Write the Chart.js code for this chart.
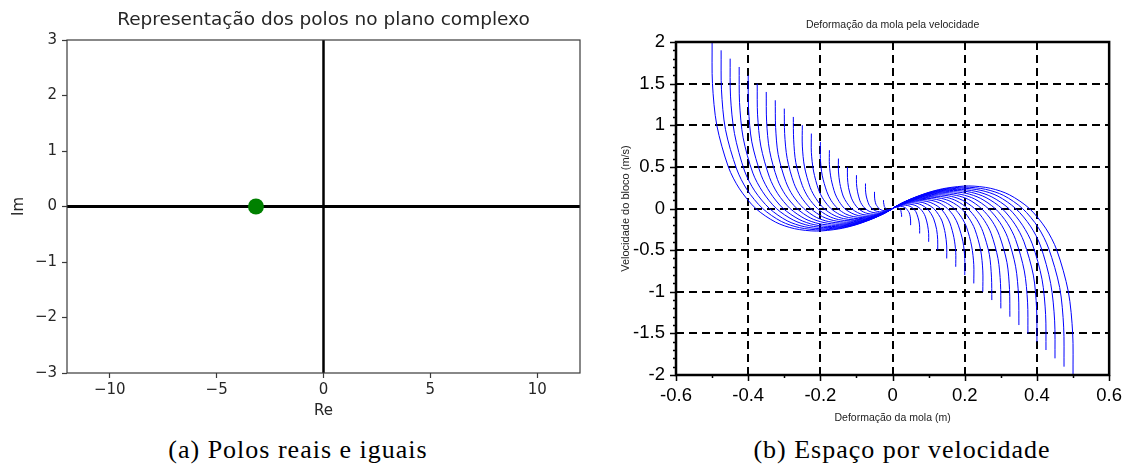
<!DOCTYPE html>
<html><head><meta charset="utf-8">
<script src="https://cdn.jsdelivr.net/npm/chart.js@4.4.0/dist/chart.umd.min.js"></script>
<style>
html,body{margin:0;padding:0;background:#fff;}
body{width:1132px;height:476px;position:relative;overflow:hidden;}
canvas{position:absolute;top:0;}
#c1{left:0;}
#c2{left:600px;}
.cap{position:absolute;top:434px;font-family:"Liberation Serif",serif;font-size:26px;letter-spacing:1px;color:#000;white-space:nowrap;transform:translateX(-50%);line-height:32px;}
</style></head><body>
<canvas id="c1" width="600" height="430"></canvas>
<canvas id="c2" width="532" height="430"></canvas>
<div class="cap" style="left:298px">(a) Polos reais e iguais</div>
<div class="cap" style="left:902px">(b) Espaço por velocidade</div>
<script>
// ---------- Left chart data ----------
const poleRe = [-3.16];
const poleIm = [0];
const reLine = [-12, 12];
const imLine = [-3, 3];
const reTicks = [-10, -5, 0, 5, 10];
const reTickLabels = ['\u221210', '\u22125', '0', '5', '10'];
const imTicks = [-3, -2, -1, 0, 1, 2, 3];
const imTickLabels = ['\u22123', '\u22122', '\u22121', '0', '1', '2', '3'];

// ---------- Right chart data (deformation x, velocity v) ----------
const L01x=[-0.025,-0.025,-0.024,-0.023,-0.021,-0.019,-0.016,-0.014,-0.011,-0.008,-0.005,-0.003,-0.002,-0.001,0,0];
const L01v=[0.1,0.075,0.05,0.025,0.012,0,-0.008,-0.012,-0.014,-0.012,-0.01,-0.007,-0.004,-0.002,-0.001,0];
const L02x=[-0.05,-0.05,-0.049,-0.046,-0.042,-0.038,-0.032,-0.027,-0.021,-0.015,-0.01,-0.006,-0.003,-0.001,0,0];
const L02v=[0.2,0.15,0.1,0.05,0.024,0,-0.016,-0.024,-0.027,-0.025,-0.02,-0.013,-0.008,-0.004,-0.001,0];
const L03x=[-0.075,-0.075,-0.073,-0.068,-0.064,-0.057,-0.049,-0.041,-0.032,-0.023,-0.016,-0.009,-0.005,-0.002,-0.001,0];
const L03v=[0.3,0.225,0.15,0.075,0.035,0,-0.025,-0.036,-0.041,-0.037,-0.03,-0.02,-0.012,-0.006,-0.002,0];
const L04x=[-0.1,-0.1,-0.097,-0.091,-0.085,-0.076,-0.065,-0.054,-0.042,-0.03,-0.021,-0.012,-0.006,-0.003,-0.001,0];
const L04v=[0.4,0.3,0.2,0.1,0.047,0,-0.033,-0.048,-0.054,-0.049,-0.04,-0.027,-0.016,-0.007,-0.002,0];
const L05x=[-0.125,-0.125,-0.122,-0.114,-0.106,-0.095,-0.081,-0.068,-0.053,-0.038,-0.026,-0.015,-0.008,-0.004,-0.001,0];
const L05v=[0.5,0.375,0.25,0.125,0.059,0,-0.041,-0.061,-0.068,-0.062,-0.05,-0.033,-0.02,-0.009,-0.003,0];
const L06x=[-0.15,-0.15,-0.146,-0.137,-0.127,-0.114,-0.097,-0.082,-0.063,-0.045,-0.031,-0.018,-0.01,-0.004,-0.001,0];
const L06v=[0.6,0.45,0.3,0.15,0.071,0,-0.049,-0.073,-0.081,-0.074,-0.06,-0.04,-0.023,-0.011,-0.003,0];
const L07x=[-0.175,-0.175,-0.17,-0.159,-0.148,-0.133,-0.113,-0.095,-0.074,-0.053,-0.036,-0.021,-0.011,-0.005,-0.001,0];
const L07v=[0.7,0.525,0.35,0.175,0.083,0,-0.057,-0.085,-0.095,-0.086,-0.07,-0.047,-0.027,-0.013,-0.004,0];
const L08x=[-0.2,-0.2,-0.195,-0.182,-0.17,-0.152,-0.13,-0.109,-0.084,-0.06,-0.042,-0.024,-0.013,-0.006,-0.002,0];
const L08v=[0.8,0.6,0.4,0.2,0.094,0,-0.066,-0.097,-0.108,-0.098,-0.08,-0.053,-0.031,-0.015,-0.004,0];
const L09x=[-0.225,-0.225,-0.219,-0.205,-0.191,-0.171,-0.146,-0.122,-0.095,-0.068,-0.047,-0.027,-0.014,-0.006,-0.002,0];
const L09v=[0.9,0.675,0.45,0.225,0.106,0,-0.074,-0.109,-0.122,-0.111,-0.09,-0.06,-0.035,-0.017,-0.005,0];
const L10x=[-0.25,-0.25,-0.244,-0.228,-0.212,-0.19,-0.162,-0.136,-0.106,-0.075,-0.052,-0.031,-0.016,-0.007,-0.002,0];
const L10v=[1,0.75,0.5,0.25,0.118,0,-0.082,-0.121,-0.136,-0.123,-0.1,-0.067,-0.039,-0.019,-0.006,0];
const L11x=[-0.275,-0.274,-0.268,-0.25,-0.233,-0.208,-0.178,-0.15,-0.116,-0.083,-0.057,-0.034,-0.018,-0.008,-0.002,0];
const L11v=[1.1,0.825,0.55,0.275,0.13,0,-0.09,-0.133,-0.149,-0.135,-0.109,-0.073,-0.043,-0.02,-0.006,0];
const L12x=[-0.3,-0.299,-0.292,-0.273,-0.254,-0.227,-0.194,-0.163,-0.127,-0.09,-0.062,-0.037,-0.019,-0.008,-0.002,0];
const L12v=[1.2,0.9,0.6,0.3,0.142,0,-0.098,-0.145,-0.163,-0.148,-0.119,-0.08,-0.047,-0.022,-0.007,0];
const L13x=[-0.325,-0.324,-0.317,-0.296,-0.276,-0.246,-0.211,-0.177,-0.137,-0.098,-0.068,-0.04,-0.021,-0.009,-0.003,0];
const L13v=[1.3,0.975,0.65,0.325,0.153,0,-0.107,-0.157,-0.176,-0.16,-0.129,-0.086,-0.051,-0.024,-0.007,0];
const L14x=[-0.35,-0.349,-0.341,-0.319,-0.297,-0.265,-0.227,-0.19,-0.148,-0.105,-0.073,-0.043,-0.022,-0.01,-0.003,0];
const L14v=[1.4,1.05,0.7,0.35,0.165,0,-0.115,-0.169,-0.19,-0.172,-0.139,-0.093,-0.055,-0.026,-0.008,0];
const L15x=[-0.375,-0.374,-0.365,-0.341,-0.318,-0.284,-0.243,-0.204,-0.158,-0.113,-0.078,-0.046,-0.024,-0.011,-0.003,0];
const L15v=[1.5,1.125,0.75,0.375,0.177,0,-0.123,-0.182,-0.203,-0.185,-0.149,-0.1,-0.059,-0.028,-0.008,0];
const L16x=[-0.4,-0.399,-0.39,-0.364,-0.339,-0.303,-0.259,-0.218,-0.169,-0.12,-0.083,-0.049,-0.026,-0.011,-0.003,0];
const L16v=[1.6,1.2,0.8,0.4,0.189,0,-0.131,-0.194,-0.217,-0.197,-0.159,-0.106,-0.062,-0.03,-0.009,0];
const L17x=[-0.425,-0.424,-0.414,-0.387,-0.36,-0.322,-0.275,-0.231,-0.179,-0.128,-0.088,-0.052,-0.027,-0.012,-0.003,0];
const L17v=[1.7,1.275,0.85,0.425,0.201,0,-0.139,-0.206,-0.23,-0.209,-0.169,-0.113,-0.066,-0.031,-0.009,0];
const L18x=[-0.45,-0.449,-0.438,-0.41,-0.382,-0.341,-0.292,-0.245,-0.19,-0.135,-0.094,-0.055,-0.029,-0.013,-0.004,0];
const L18v=[1.8,1.35,0.9,0.45,0.212,0,-0.148,-0.218,-0.244,-0.221,-0.179,-0.12,-0.07,-0.033,-0.01,0];
const L19x=[-0.475,-0.474,-0.463,-0.432,-0.403,-0.36,-0.308,-0.258,-0.2,-0.143,-0.099,-0.058,-0.03,-0.013,-0.004,0];
const L19v=[1.9,1.425,0.95,0.475,0.224,0,-0.156,-0.23,-0.257,-0.234,-0.189,-0.126,-0.074,-0.035,-0.01,0];
const L20x=[-0.5,-0.499,-0.487,-0.455,-0.424,-0.379,-0.324,-0.272,-0.211,-0.15,-0.104,-0.061,-0.032,-0.014,-0.004,0];
const L20v=[2,1.5,1,0.5,0.236,0,-0.164,-0.242,-0.271,-0.246,-0.199,-0.133,-0.078,-0.037,-0.011,0];

const R01x=[0.025,0.025,0.024,0.023,0.021,0.019,0.016,0.014,0.011,0.008,0.005,0.003,0.002,0.001,0,0];
const R01v=[-0.1,-0.075,-0.05,-0.025,-0.012,0,0.008,0.012,0.014,0.012,0.01,0.007,0.004,0.002,0.001,0];
const R02x=[0.05,0.05,0.049,0.046,0.042,0.038,0.032,0.027,0.021,0.015,0.01,0.006,0.003,0.001,0,0];
const R02v=[-0.2,-0.15,-0.1,-0.05,-0.024,0,0.016,0.024,0.027,0.025,0.02,0.013,0.008,0.004,0.001,0];
const R03x=[0.075,0.075,0.073,0.068,0.064,0.057,0.049,0.041,0.032,0.023,0.016,0.009,0.005,0.002,0.001,0];
const R03v=[-0.3,-0.225,-0.15,-0.075,-0.035,0,0.025,0.036,0.041,0.037,0.03,0.02,0.012,0.006,0.002,0];
const R04x=[0.1,0.1,0.097,0.091,0.085,0.076,0.065,0.054,0.042,0.03,0.021,0.012,0.006,0.003,0.001,0];
const R04v=[-0.4,-0.3,-0.2,-0.1,-0.047,0,0.033,0.048,0.054,0.049,0.04,0.027,0.016,0.007,0.002,0];
const R05x=[0.125,0.125,0.122,0.114,0.106,0.095,0.081,0.068,0.053,0.038,0.026,0.015,0.008,0.004,0.001,0];
const R05v=[-0.5,-0.375,-0.25,-0.125,-0.059,0,0.041,0.061,0.068,0.062,0.05,0.033,0.02,0.009,0.003,0];
const R06x=[0.15,0.15,0.146,0.137,0.127,0.114,0.097,0.082,0.063,0.045,0.031,0.018,0.01,0.004,0.001,0];
const R06v=[-0.6,-0.45,-0.3,-0.15,-0.071,0,0.049,0.073,0.081,0.074,0.06,0.04,0.023,0.011,0.003,0];
const R07x=[0.175,0.175,0.17,0.159,0.148,0.133,0.113,0.095,0.074,0.053,0.036,0.021,0.011,0.005,0.001,0];
const R07v=[-0.7,-0.525,-0.35,-0.175,-0.083,0,0.057,0.085,0.095,0.086,0.07,0.047,0.027,0.013,0.004,0];
const R08x=[0.2,0.2,0.195,0.182,0.17,0.152,0.13,0.109,0.084,0.06,0.042,0.024,0.013,0.006,0.002,0];
const R08v=[-0.8,-0.6,-0.4,-0.2,-0.094,0,0.066,0.097,0.108,0.098,0.08,0.053,0.031,0.015,0.004,0];
const R09x=[0.225,0.225,0.219,0.205,0.191,0.171,0.146,0.122,0.095,0.068,0.047,0.027,0.014,0.006,0.002,0];
const R09v=[-0.9,-0.675,-0.45,-0.225,-0.106,0,0.074,0.109,0.122,0.111,0.09,0.06,0.035,0.017,0.005,0];
const R10x=[0.25,0.25,0.244,0.228,0.212,0.19,0.162,0.136,0.106,0.075,0.052,0.031,0.016,0.007,0.002,0];
const R10v=[-1,-0.75,-0.5,-0.25,-0.118,0,0.082,0.121,0.136,0.123,0.1,0.067,0.039,0.019,0.006,0];
const R11x=[0.275,0.274,0.268,0.25,0.233,0.208,0.178,0.15,0.116,0.083,0.057,0.034,0.018,0.008,0.002,0];
const R11v=[-1.1,-0.825,-0.55,-0.275,-0.13,0,0.09,0.133,0.149,0.135,0.109,0.073,0.043,0.02,0.006,0];
const R12x=[0.3,0.299,0.292,0.273,0.254,0.227,0.194,0.163,0.127,0.09,0.062,0.037,0.019,0.008,0.002,0];
const R12v=[-1.2,-0.9,-0.6,-0.3,-0.142,0,0.098,0.145,0.163,0.148,0.119,0.08,0.047,0.022,0.007,0];
const R13x=[0.325,0.324,0.317,0.296,0.276,0.246,0.211,0.177,0.137,0.098,0.068,0.04,0.021,0.009,0.003,0];
const R13v=[-1.3,-0.975,-0.65,-0.325,-0.153,0,0.107,0.157,0.176,0.16,0.129,0.086,0.051,0.024,0.007,0];
const R14x=[0.35,0.349,0.341,0.319,0.297,0.265,0.227,0.19,0.148,0.105,0.073,0.043,0.022,0.01,0.003,0];
const R14v=[-1.4,-1.05,-0.7,-0.35,-0.165,0,0.115,0.169,0.19,0.172,0.139,0.093,0.055,0.026,0.008,0];
const R15x=[0.375,0.374,0.365,0.341,0.318,0.284,0.243,0.204,0.158,0.113,0.078,0.046,0.024,0.011,0.003,0];
const R15v=[-1.5,-1.125,-0.75,-0.375,-0.177,0,0.123,0.182,0.203,0.185,0.149,0.1,0.059,0.028,0.008,0];
const R16x=[0.4,0.399,0.39,0.364,0.339,0.303,0.259,0.218,0.169,0.12,0.083,0.049,0.026,0.011,0.003,0];
const R16v=[-1.6,-1.2,-0.8,-0.4,-0.189,0,0.131,0.194,0.217,0.197,0.159,0.106,0.062,0.03,0.009,0];
const R17x=[0.425,0.424,0.414,0.387,0.36,0.322,0.275,0.231,0.179,0.128,0.088,0.052,0.027,0.012,0.003,0];
const R17v=[-1.7,-1.275,-0.85,-0.425,-0.201,0,0.139,0.206,0.23,0.209,0.169,0.113,0.066,0.031,0.009,0];
const R18x=[0.45,0.449,0.438,0.41,0.382,0.341,0.292,0.245,0.19,0.135,0.094,0.055,0.029,0.013,0.004,0];
const R18v=[-1.8,-1.35,-0.9,-0.45,-0.212,0,0.148,0.218,0.244,0.221,0.179,0.12,0.07,0.033,0.01,0];
const R19x=[0.475,0.474,0.463,0.432,0.403,0.36,0.308,0.258,0.2,0.143,0.099,0.058,0.03,0.013,0.004,0];
const R19v=[-1.9,-1.425,-0.95,-0.475,-0.224,0,0.156,0.23,0.257,0.234,0.189,0.126,0.074,0.035,0.01,0];
const R20x=[0.5,0.499,0.487,0.455,0.424,0.379,0.324,0.272,0.211,0.15,0.104,0.061,0.032,0.014,0.004,0];
const R20v=[-2,-1.5,-1,-0.5,-0.236,0,0.164,0.242,0.271,0.246,0.199,0.133,0.078,0.037,0.011,0];

const xTicksR = [-0.6, -0.4, -0.2, 0, 0.2, 0.4, 0.6];
const xTickLabelsR = ['-0.6', '-0.4', '-0.2', '0', '0.2', '0.4', '0.6'];
const vTicksR = [-2, -1.5, -1, -0.5, 0, 0.5, 1, 1.5, 2];
const vTickLabelsR = ['-2', '-1.5', '-1', '-0.5', '0', '0.5', '1', '1.5', '2'];

const curvePairs = [
  [L01x,L01v],[L02x,L02v],[L03x,L03v],[L04x,L04v],[L05x,L05v],[L06x,L06v],[L07x,L07v],[L08x,L08v],[L09x,L09v],[L10x,L10v],
  [L11x,L11v],[L12x,L12v],[L13x,L13v],[L14x,L14v],[L15x,L15v],[L16x,L16v],[L17x,L17v],[L18x,L18v],[L19x,L19v],[L20x,L20v],
  [R01x,R01v],[R02x,R02v],[R03x,R03v],[R04x,R04v],[R05x,R05v],[R06x,R06v],[R07x,R07v],[R08x,R08v],[R09x,R09v],[R10x,R10v],
  [R11x,R11v],[R12x,R12v],[R13x,R13v],[R14x,R14v],[R15x,R15v],[R16x,R16v],[R17x,R17v],[R18x,R18v],[R19x,R19v],[R20x,R20v]
];

// ---------- Left chart ----------
const frameLeft = {
  id: 'frameLeft',
  afterDraw(chart) {
    const {ctx, chartArea: a} = chart;
    ctx.save();
    ctx.strokeStyle = '#3a3a3a';
    ctx.lineWidth = 1.2;
    ctx.strokeRect(a.left, a.top, a.right - a.left, a.bottom - a.top);
    ctx.restore();
  }
};

new Chart(document.getElementById('c1'), {
  type: 'scatter',
  data: {
    datasets: [
      { data: poleRe.map((x, i) => ({x, y: poleIm[i]})), pointRadius: 8, pointBackgroundColor: '#008000',
        pointBorderColor: '#008000', pointBorderWidth: 0, showLine: false, order: 0 },
      { data: reLine.map(x => ({x, y: 0})), showLine: true, borderColor: '#000', borderWidth: 3, pointRadius: 0, order: 1 },
      { data: imLine.map(y => ({x: 0, y})), showLine: true, borderColor: '#000', borderWidth: 2.5, pointRadius: 0, order: 1 }
    ]
  },
  options: {
    responsive: false, animation: false, devicePixelRatio: 1, events: [],
    layout: { padding: { left: 0, right: 20, top: 0, bottom: 0 } },
    plugins: {
      legend: { display: false }, tooltip: { enabled: false },
      title: { display: true, fullSize: false, text: 'Representação dos polos no plano complexo',
        font: { family: 'DejaVu Sans', size: 18.5, weight: 'normal' }, color: '#262626',
        padding: { top: 9, bottom: 8.8 } }
    },
    scales: {
      x: {
        type: 'linear', min: -12, max: 12,
        afterBuildTicks: s => { s.ticks = reTicks.map(v => ({value: v})); },
        afterFit: s => { s.height = 57; },
        ticks: { callback: v => reTickLabels[reTicks.indexOf(v)], font: { family: 'DejaVu Sans', size: 15 },
          color: '#262626', padding: 3, maxRotation: 0, autoSkip: false },
        grid: { drawOnChartArea: false, drawTicks: true, tickLength: 5, tickColor: '#3a3a3a', tickWidth: 1.2 },
        border: { display: false },
        title: { display: true, text: 'Re', font: { family: 'DejaVu Sans', size: 15 }, color: '#262626',
          padding: { top: 0, bottom: 10 } }
      },
      y: {
        type: 'linear', min: -3, max: 3,
        afterBuildTicks: s => { s.ticks = imTicks.map(v => ({value: v})); },
        afterFit: s => { s.width = 67; },
        ticks: { callback: v => imTickLabels[imTicks.indexOf(v)], font: { family: 'DejaVu Sans', size: 15 },
          color: '#262626', padding: 5, autoSkip: false },
        grid: { drawOnChartArea: false, drawTicks: true, tickLength: 5, tickColor: '#3a3a3a', tickWidth: 1.2 },
        border: { display: false },
        title: { display: true, text: 'Im', font: { family: 'DejaVu Sans', size: 15 }, color: '#262626',
          padding: { top: 10, bottom: 0 } }
      }
    }
  },
  plugins: [frameLeft]
});

// ---------- Right chart ----------
const scilabAxes = {
  id: 'scilabAxes',
  afterDatasetsDraw(chart) {
    const {ctx, chartArea: a, scales: {x, y}} = chart;
    ctx.save();
    ctx.strokeStyle = '#000';
    ctx.lineWidth = 1.5;
    ctx.beginPath();
    for (let i = -20; i <= 20; i++) {
      const py = Math.round(y.getPixelForValue(i / 10)) + 0.5;
      const len = (i % 5 === 0) ? 6 : 3;
      ctx.moveTo(a.left, py); ctx.lineTo(a.left - len, py);
    }
    for (let i = -6; i <= 6; i++) {
      const px = Math.round(x.getPixelForValue(i / 10)) + 0.5;
      const len = (i % 2 === 0) ? 6 : 3;
      ctx.moveTo(px, a.bottom); ctx.lineTo(px, a.bottom + len);
    }
    ctx.stroke();
    ctx.lineWidth = 2.5;
    ctx.strokeRect(a.left, a.top, a.right - a.left, a.bottom - a.top);
    ctx.restore();
  }
};

new Chart(document.getElementById('c2'), {
  type: 'scatter',
  data: {
    datasets: curvePairs.map(([xs, vs]) => ({
      data: xs.map((xv, i) => ({x: xv, y: vs[i]})),
      showLine: true, borderColor: '#0000ff', borderWidth: 1, pointRadius: 0, tension: 0.3, fill: false
    }))
  },
  options: {
    responsive: false, animation: false, devicePixelRatio: 1, events: [],
    layout: { padding: { left: 0, right: 15, top: 0, bottom: 0 } },
    plugins: {
      legend: { display: false }, tooltip: { enabled: false },
      title: { display: true, fullSize: false, text: 'Deformação da mola pela velocidade',
        font: { family: 'Liberation Sans', size: 10.5, weight: 'normal' }, color: '#222',
        padding: { top: 18.7, bottom: 10.7 } }
    },
    scales: {
      x: {
        type: 'linear', min: -0.6, max: 0.6,
        afterBuildTicks: s => { s.ticks = xTicksR.map(v => ({value: v})); },
        afterFit: s => { s.height = 55; },
        ticks: { callback: v => xTickLabelsR[xTicksR.indexOf(v)], font: { family: 'Liberation Sans', size: 18.5 },
          color: '#000', padding: 10, maxRotation: 0, autoSkip: false },
        grid: { drawOnChartArea: true, drawTicks: false, color: '#000', lineWidth: 2 },
        border: { display: false, dash: [8, 5] },
        title: { display: true, text: 'Deformação da mola (m)', font: { family: 'Liberation Sans', size: 10.5 }, color: '#222',
          padding: { top: 0, bottom: 5.7 } }
      },
      y: {
        type: 'linear', min: -2, max: 2,
        afterBuildTicks: s => { s.ticks = vTicksR.map(v => ({value: v})); },
        afterFit: s => { s.width = 76; },
        ticks: { callback: v => vTickLabelsR[vTicksR.indexOf(v)], font: { family: 'Liberation Sans', size: 18.5 },
          color: '#000', padding: 11, autoSkip: false },
        grid: { drawOnChartArea: true, drawTicks: false, color: '#000', lineWidth: 2 },
        border: { display: false, dash: [8, 5] },
        title: { display: true, text: 'Velocidade do bloco (m/s)', font: { family: 'Liberation Sans', size: 11 }, color: '#222',
          padding: { top: 19, bottom: 0 } }
      }
    }
  },
  plugins: [scilabAxes]
});
</script>
</body></html>
